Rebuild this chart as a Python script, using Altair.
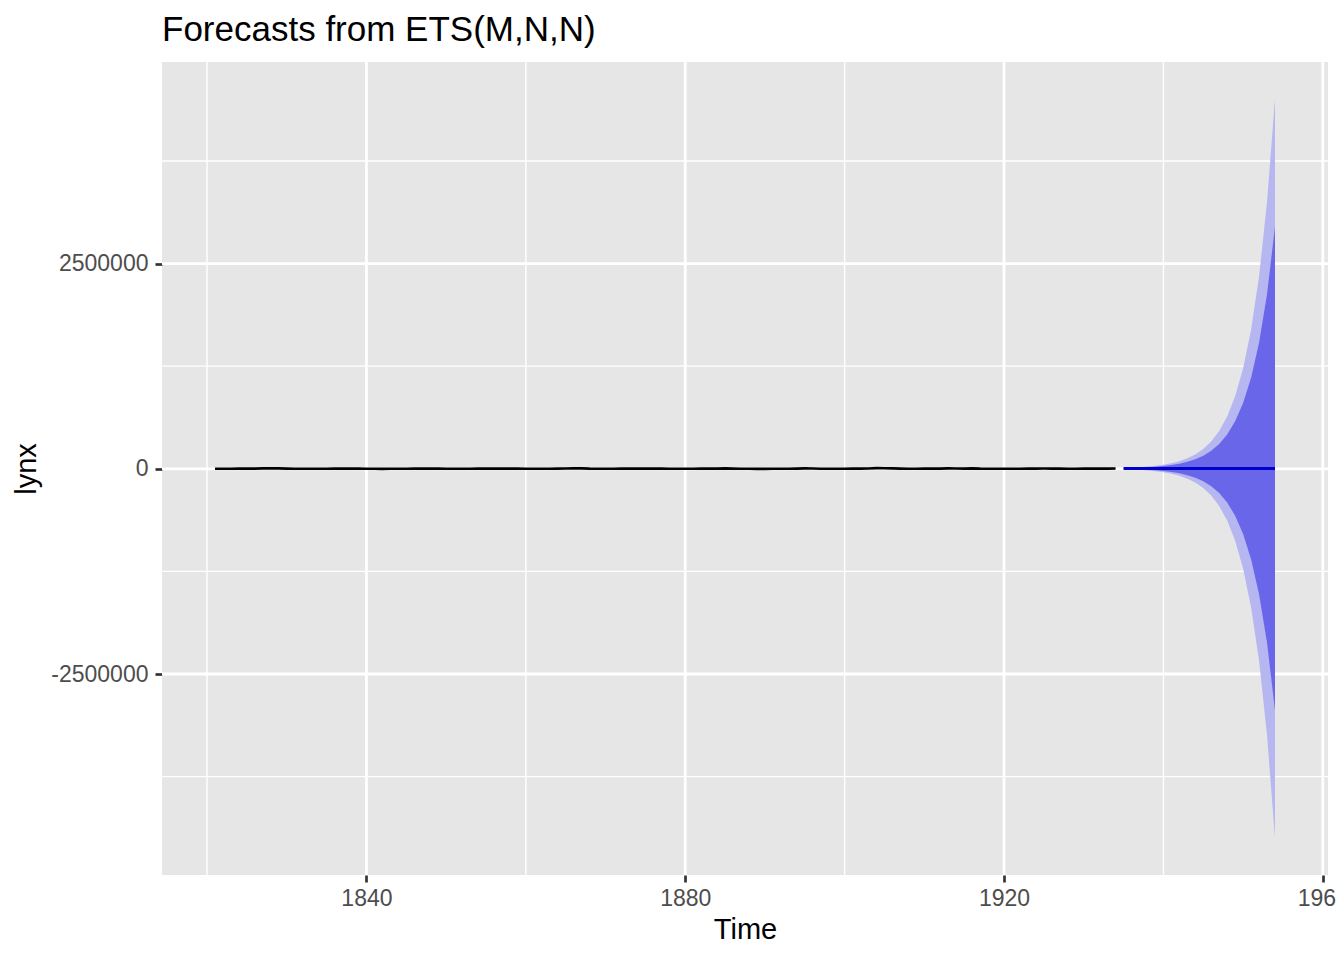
import altair as alt
import pandas as pd

# Observed series (annual lynx trappings 1821-1934)
hist_years = list(range(1821, 1935))
hist_values = [269, 321, 585, 871, 1475, 2821, 3928, 5943, 4950, 2577,
               523, 98, 184, 279, 409, 2285, 2685, 3409, 1824, 409,
               151, 45, 68, 213, 546, 1033, 2129, 2536, 957, 361,
               377, 225, 360, 731, 1638, 2725, 2871, 2119, 684, 299,
               236, 245, 552, 1623, 3311, 6721, 4254, 687, 255, 473,
               358, 784, 1594, 1676, 2251, 1426, 756, 299, 201, 229,
               469, 736, 2042, 2811, 4431, 2511, 389, 73, 39, 49,
               59, 188, 377, 1292, 4031, 3495, 587, 105, 153, 387,
               758, 1307, 3465, 6991, 6313, 3794, 1836, 345, 382, 808,
               1388, 2713, 3800, 3091, 2985, 3790, 674, 81, 80, 108,
               229, 399, 1132, 2432, 3574, 2935, 1537, 529, 485, 662,
               1000, 1590, 2657, 3396]

# Forecast (1935-1954)
fc_years = list(range(1935, 1955))
fc_mean = [3396] * 20
fc_lo80 = [-719, -3637, -7187, -11844, -18125, -26720, -38554, -54900, -77523, -108854,
           -152254, -212424, -295794, -411414, -571614, -793664, -1101434, -1528374, -2119934, -2940054]
fc_hi80 = [7511, 10429, 13979, 18636, 24917, 33512, 45346, 61692, 84315, 115646,
           159046, 219216, 302586, 418206, 578406, 800456, 1108226, 1535166, 2126726, 2946846]
fc_lo95 = [-2898, -7360, -12790, -19910, -29516, -42662, -60761, -85759, -120356, -168273,
           -234646, -326668, -454166, -630997, -875997, -1215587, -1686261, -2339196, -3243932, -4498136]
fc_hi95 = [9690, 14152, 19582, 26702, 36308, 49454, 67553, 92551, 127148, 175065,
           241438, 333460, 460958, 637789, 882789, 1222379, 1693053, 2345988, 3250724, 4504928]

x_major = [1840, 1880, 1920, 1960]
x_minor = [1820, 1860, 1900, 1940]
y_major = [-2500000, 0, 2500000]
y_minor = [-3750000, -1250000, 1250000, 3750000]

X_DOMAIN = [1814.35, 1960.65]
Y_DOMAIN = [-4948289, 4955081]
FONT = "Liberation Sans"

hist = pd.DataFrame({"Time": hist_years, "lynx": hist_values})
fc = pd.DataFrame({"Time": fc_years, "mean": fc_mean, "lo80": fc_lo80, "hi80": fc_hi80,
                   "lo95": fc_lo95, "hi95": fc_hi95})

xs = alt.Scale(domain=X_DOMAIN, nice=False, zero=False)
ys = alt.Scale(domain=Y_DOMAIN, nice=False, zero=False)

x_axis = alt.Axis(values=x_major, grid=False, domain=False, tickColor="#333333",
                  tickWidth=2.7, tickSize=7, labelColor="#4D4D4D", labelFontSize=23,
                  labelFont=FONT, labelPadding=5, labelExpr="'' + datum.value",
                  title="Time", titleFont=FONT, titleFontSize=29, titleFontWeight="normal",
                  titleColor="#000000", titleX=583, titleY=63.5, titleBaseline="alphabetic",
                  titleAlign="center", labelFlush=False, labelOverlap=False)
y_axis = alt.Axis(values=y_major, grid=False, domain=False, tickColor="#333333",
                  tickWidth=2.7, tickSize=7, labelColor="#4D4D4D", labelFontSize=23,
                  labelFont=FONT, labelPadding=7, labelExpr="'' + datum.value",
                  title="lynx", titleFont=FONT, titleFontSize=29, titleFontWeight="normal",
                  titleColor="#000000", titleX=-127, titleY=406.5, titleAngle=270,
                  titleBaseline="alphabetic", titleAlign="center", labelOverlap=False)

gx_major = alt.Chart(pd.DataFrame({"v": x_major})).mark_rule(color="white", strokeWidth=2.8).encode(
    x=alt.X("v:Q", scale=xs, axis=x_axis))
gx_minor = alt.Chart(pd.DataFrame({"v": x_minor})).mark_rule(color="white", strokeWidth=1.4).encode(
    x=alt.X("v:Q", scale=xs))
gy_major = alt.Chart(pd.DataFrame({"v": y_major})).mark_rule(color="white", strokeWidth=2.8).encode(
    y=alt.Y("v:Q", scale=ys, axis=y_axis))
gy_minor = alt.Chart(pd.DataFrame({"v": y_minor})).mark_rule(color="white", strokeWidth=1.4).encode(
    y=alt.Y("v:Q", scale=ys))

band95 = alt.Chart(fc).mark_area(color="#B6B6F1", opacity=1).encode(
    x=alt.X("Time:Q", scale=xs), y=alt.Y("lo95:Q", scale=ys), y2="hi95:Q")
band80 = alt.Chart(fc).mark_area(color="#6A66EA", opacity=1).encode(
    x=alt.X("Time:Q", scale=xs), y=alt.Y("lo80:Q", scale=ys), y2="hi80:Q")
hist_line = alt.Chart(hist).mark_line(color="black", strokeWidth=2.7).encode(
    x=alt.X("Time:Q", scale=xs), y=alt.Y("lynx:Q", scale=ys))
fc_line = alt.Chart(fc).mark_line(color="#0000CC", strokeWidth=2.9).encode(
    x=alt.X("Time:Q", scale=xs), y=alt.Y("mean:Q", scale=ys))

chart = alt.layer(gx_minor, gy_minor, gx_major, gy_major, band95, band80, hist_line, fc_line).properties(
    width=1166, height=813,
    title=alt.TitleParams("Forecasts from ETS(M,N,N)", anchor="start", frame="group",
                          font=FONT, fontSize=35, fontWeight="normal", color="#000000",
                          baseline="alphabetic", offset=14, dy=29),
    autosize=alt.AutoSizeParams(type="none"),
    padding={"left": 154, "top": 54, "right": 8, "bottom": 77},
    background="white",
).configure_view(fill="#E6E6E6", stroke=None)

chart.save("out.html", embed_options={"renderer": "svg", "actions": False})
